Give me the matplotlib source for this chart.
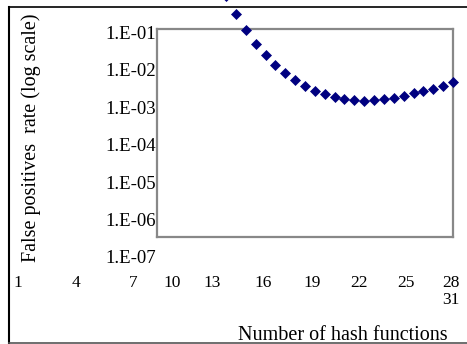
import math
import matplotlib
matplotlib.use("Agg")
import matplotlib.pyplot as plt
from matplotlib.lines import Line2D
from matplotlib.ticker import FixedLocator, FuncFormatter

plt.rcParams['font.family'] = ['Liberation Serif', 'DejaVu Serif']

# number of hash functions and the false positive rate
hashes = list(range(8, 32))
fp_rate = [0.95, 0.313, 0.1145, 0.0502, 0.0250, 0.01352, 0.00826, 0.00527,
           0.00364, 0.00278, 0.00227, 0.00188, 0.00167, 0.00154, 0.00150,
           0.00154, 0.00164, 0.00181, 0.00204, 0.00237, 0.00268, 0.00314,
           0.00379, 0.00474]

y_ticks = [1e-1, 1e-2, 1e-3, 1e-4, 1e-5, 1e-6]
x_labels = ["1", "4", "7", "10", "13", "16", "19", "22", "25", "28"]
x_label_px = [18, 76, 133, 172, 212, 263, 312, 359, 406, 451]  # where the broken labels sit

W, H = 467, 344
fig = plt.figure(figsize=(W / 100, H / 100), dpi=100)
fig.patch.set_facecolor("white")

def fx(px):
    return px / W

def fy(py):
    return 1 - py / H

# gray plot box
ax = fig.add_axes([fx(157), fy(236.5), fx(453) - fx(157), fy(29) - fy(236.5)])
ax.set_yscale("log")
ax.set_xlim(1, 31)
ax.set_ylim(10 ** -6.455, 10 ** -0.906)

ax.plot(hashes, fp_rate, linestyle="none", marker="D", markersize=5.2,
        color="#000080", markeredgewidth=0.5, clip_on=False, zorder=5)

for s in ax.spines.values():
    s.set_color("#888888")
    s.set_linewidth(1.6)

ax.xaxis.set_major_locator(FixedLocator([]))
ax.xaxis.set_minor_locator(FixedLocator([]))
ax.yaxis.set_major_locator(FixedLocator(y_ticks))
ax.yaxis.set_minor_locator(FixedLocator([]))
ax.yaxis.set_major_formatter(FuncFormatter(lambda v, p: "1.E-%02d" % round(-math.log10(v))))
ax.tick_params(axis="y", length=0, pad=1, labelsize=13.5)

# 1.E-07 lies below the box in the original
ax.text(-0.003, 1e-7, "1.E-07", transform=ax.get_yaxis_transform(),
        ha="right", va="center_baseline", fontsize=13.5, clip_on=False)

for lab, px in zip(x_labels, x_label_px):
    fig.text(fx(px), fy(283), lab, ha="center", va="center", fontsize=12.5)
fig.text(fx(451), fy(300), "31", ha="center", va="center", fontsize=12.5)

fig.text(fx(448), fy(335), "Number of hash functions", ha="right",
         va="center", fontsize=14.5)
fig.text(fx(31), fy(138), "False positives  rate (log scale)", rotation=90,
         ha="center", va="center", fontsize=14.5)

# outer chart border (cut off at the right)
fig.add_artist(Line2D([fx(8.5), fx(8.5)], [fy(6.5), fy(343)], color="black", lw=1.5))
fig.add_artist(Line2D([fx(8.5), 1], [fy(6.5), fy(6.5)], color="black", lw=1.2))
fig.add_artist(Line2D([fx(8.5), 1], [fy(343), fy(343)], color="#555555", lw=1.2))

fig.savefig("out.png", dpi=100)
